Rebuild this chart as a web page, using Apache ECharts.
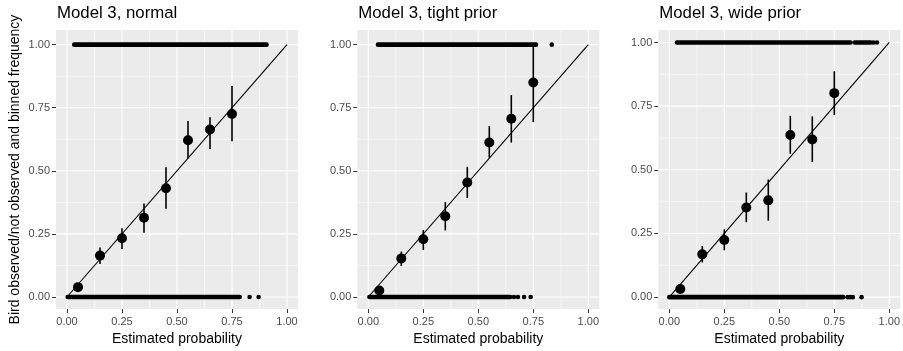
<!DOCTYPE html>
<html>
<head>
<meta charset="utf-8">
<script src="https://cdn.jsdelivr.net/npm/echarts@6/dist/echarts.min.js"></script>
<style>
  html, body { margin: 0; padding: 0; background: #fff; }
  #main { width: 903px; height: 351px; }
</style>
</head>
<body>
<div id="main"></div>
<script>
// tick values / labels
var tickVals = [0, 0.25, 0.5, 0.75, 1];
var tickLabels = ['0.00', '0.25', '0.50', '0.75', '1.00'];
var minorVals = [0.125, 0.375, 0.625, 0.875];

var panelTitles = ['Model 3, normal', 'Model 3, tight prior', 'Model 3, wide prior'];

// binned frequency (bin midpoints)
var binMid = [0.05, 0.15, 0.25, 0.35, 0.45, 0.55, 0.65, 0.75];

var normalFreq = [0.039, 0.164, 0.233, 0.314, 0.431, 0.621, 0.664, 0.725];
var normalLow  = [0.026, 0.131, 0.190, 0.255, 0.350, 0.549, 0.586, 0.617];
var normalHigh = [0.054, 0.196, 0.272, 0.370, 0.514, 0.697, 0.712, 0.836];

var tightFreq = [0.026, 0.153, 0.229, 0.320, 0.454, 0.612, 0.706, 0.850];
var tightLow  = [0.014, 0.123, 0.186, 0.264, 0.392, 0.552, 0.612, 0.693];
var tightHigh = [0.040, 0.180, 0.265, 0.376, 0.516, 0.677, 0.800, 1.000];

var wideFreq = [0.032, 0.168, 0.224, 0.352, 0.380, 0.637, 0.619, 0.801];
var wideLow  = [0.018, 0.136, 0.184, 0.294, 0.300, 0.563, 0.531, 0.715];
var wideHigh = [0.048, 0.201, 0.266, 0.411, 0.462, 0.712, 0.710, 0.887];

// raw observations: dense runs of estimated probability and isolated points
var normalRunsObs = [[0.033, 0.907]];
var normalDotsObs = [];
var normalRunsNot = [[0.003, 0.785]];
var normalDotsNot = [0.830, 0.871];

var tightRunsObs = [[0.044, 0.762]];
var tightDotsObs = [0.834];
var tightRunsNot = [[0.005, 0.645]];
var tightDotsNot = [0.662, 0.680, 0.708, 0.738];

var wideRunsObs = [[0.035, 0.824], [0.843, 0.915]];
var wideDotsObs = [0.928, 0.944];
var wideRunsNot = [[0.000, 0.790]];
var wideDotsNot = [0.810, 0.822, 0.834, 0.874];

var diagonal = [[0, 0], [1, 1]];

var panels = [
  {freq: normalFreq, low: normalLow, high: normalHigh, runsObs: normalRunsObs, dotsObs: normalDotsObs, runsNot: normalRunsNot, dotsNot: normalDotsNot},
  {freq: tightFreq, low: tightLow, high: tightHigh, runsObs: tightRunsObs, dotsObs: tightDotsObs, runsNot: tightRunsNot, dotsNot: tightDotsNot},
  {freq: wideFreq, low: wideLow, high: wideHigh, runsObs: wideRunsObs, dotsObs: wideDotsObs, runsNot: wideRunsNot, dotsNot: wideDotsNot}
];

// layout (px)
var gridPos = [
  {left: 56, top: 30, width: 242, height: 282, ymin: -0.048, ymax: 1.058},
  {left: 357.3, top: 30, width: 242, height: 282, ymin: -0.048, ymax: 1.058},
  {left: 658.3, top: 30, width: 242.7, height: 282, ymin: -0.047, ymax: 1.049}
];

var FONT = 'Liberation Sans, Arial, sans-serif';

function fmtTick(v){
  var i = tickVals.indexOf(v);
  return i >= 0 ? tickLabels[i] : v.toFixed(2);
}

/*网格线*/
function renderGridLine(params, api){
  var cs = params.coordSys;
  var v = api.value(0), dir = api.value(1), major = api.value(2);
  var shape;
  if (dir === 0) {
    var x = api.coord([v, 0])[0];
    shape = {x1: x, y1: cs.y, x2: x, y2: cs.y + cs.height};
  } else {
    var y = api.coord([0, v])[1];
    shape = {x1: cs.x, y1: y, x2: cs.x + cs.width, y2: y};
  }
  return {type: 'line', shape: shape, style: {stroke: '#FFFFFF', lineWidth: major ? 1.1 : 0.55}};
}

/*误差线*/
function renderErrBar(params, api){
  var p1 = api.coord([api.value(0), api.value(1)]);
  var p2 = api.coord([api.value(0), api.value(2)]);
  return {type: 'line', shape: {x1: p1[0], y1: p1[1], x2: p2[0], y2: p2[1]},
          style: {stroke: '#000', lineWidth: 1.6}};
}

/*密集点段*/
function renderRun(params, api){
  var p1 = api.coord([api.value(0), api.value(2)]);
  var p2 = api.coord([api.value(1), api.value(2)]);
  return {type: 'line', shape: {x1: p1[0], y1: p1[1], x2: p2[0], y2: p2[1]},
          style: {stroke: '#000', lineWidth: 4.6, lineCap: 'round'}};
}

var gridLineData = [];
tickVals.forEach(function(v){ gridLineData.push([v, 0, 1]); gridLineData.push([v, 1, 1]); });
minorVals.forEach(function(v){ gridLineData.push([v, 0, 0]); gridLineData.push([v, 1, 0]); });

var grids = [], xAxes = [], yAxes = [], titles = [], series = [];

for (var i = 0; i < panels.length; i++) {
  var g = gridPos[i], p = panels[i];
  grids.push({left: g.left, top: g.top, width: g.width, height: g.height,
              show: true, backgroundColor: '#EBEBEB', borderWidth: 0, containLabel: false});
  titles.push({text: panelTitles[i], left: g.left + 1, top: 5, padding: 0,
               textStyle: {fontFamily: FONT, fontSize: 16.8, fontWeight: 'normal', color: '#000'}});
  xAxes.push({
    gridIndex: i, type: 'value', min: -0.05, max: 1.05,
    axisLine: {show: false, onZero: false}, splitLine: {show: false},
    axisTick: {show: true, length: 4, lineStyle: {color: '#333333', width: 1}, customValues: tickVals},
    axisLabel: {customValues: tickVals, formatter: fmtTick, color: '#4D4D4D', fontSize: 11, fontFamily: FONT, margin: 7},
    name: 'Estimated probability', nameLocation: 'middle', nameGap: 21,
    nameTextStyle: {color: '#000', fontSize: 14, fontFamily: FONT}
  });
  var ya = {
    gridIndex: i, type: 'value', min: g.ymin, max: g.ymax,
    axisLine: {show: false, onZero: false}, splitLine: {show: false},
    axisTick: {show: true, length: 4, lineStyle: {color: '#333333', width: 1}, customValues: tickVals},
    axisLabel: {customValues: tickVals, formatter: fmtTick, color: '#4D4D4D', fontSize: 11, fontFamily: FONT, margin: 6}
  };
  if (i === 0) {
    ya.name = 'Bird observed/not observed and binned frequency';
    ya.nameLocation = 'middle';
    ya.nameGap = 34;
    ya.nameTextStyle = {color: '#000', fontSize: 14, fontFamily: FONT};
  }
  yAxes.push(ya);

  series.push({type: 'custom', xAxisIndex: i, yAxisIndex: i, z: 1, silent: true,
               renderItem: renderGridLine, data: gridLineData});

  var runData = [];
  p.runsObs.forEach(function(r){ runData.push([r[0], r[1], 1]); });
  p.runsNot.forEach(function(r){ runData.push([r[0], r[1], 0]); });
  series.push({type: 'custom', xAxisIndex: i, yAxisIndex: i, z: 3, silent: true,
               renderItem: renderRun, data: runData});

  var dotData = [];
  p.dotsObs.forEach(function(x){ dotData.push([x, 1]); });
  p.dotsNot.forEach(function(x){ dotData.push([x, 0]); });
  series.push({type: 'scatter', xAxisIndex: i, yAxisIndex: i, z: 3, silent: true,
               symbolSize: 4.6, itemStyle: {color: '#000', opacity: 1}, data: dotData});

  series.push({type: 'line', xAxisIndex: i, yAxisIndex: i, z: 4, silent: true,
               symbol: 'none', showSymbol: false, lineStyle: {color: '#000', width: 1.1}, data: diagonal});

  var errData = [], ptData = [];
  for (var k = 0; k < binMid.length; k++) {
    errData.push([binMid[k], p.low[k], p.high[k]]);
    ptData.push([binMid[k], p.freq[k]]);
  }
  series.push({type: 'custom', xAxisIndex: i, yAxisIndex: i, z: 5, silent: true,
               renderItem: renderErrBar, data: errData});
  series.push({type: 'scatter', xAxisIndex: i, yAxisIndex: i, z: 6, silent: true,
               symbolSize: 10, itemStyle: {color: '#000', opacity: 1}, data: ptData});
}

var myChart = echarts.init(document.getElementById('main'), null, {renderer: 'canvas'});
myChart.setOption({
  animation: false,
  backgroundColor: '#FFFFFF',
  title: titles,
  grid: grids,
  xAxis: xAxes,
  yAxis: yAxes,
  series: series
});
</script>
</body>
</html>
